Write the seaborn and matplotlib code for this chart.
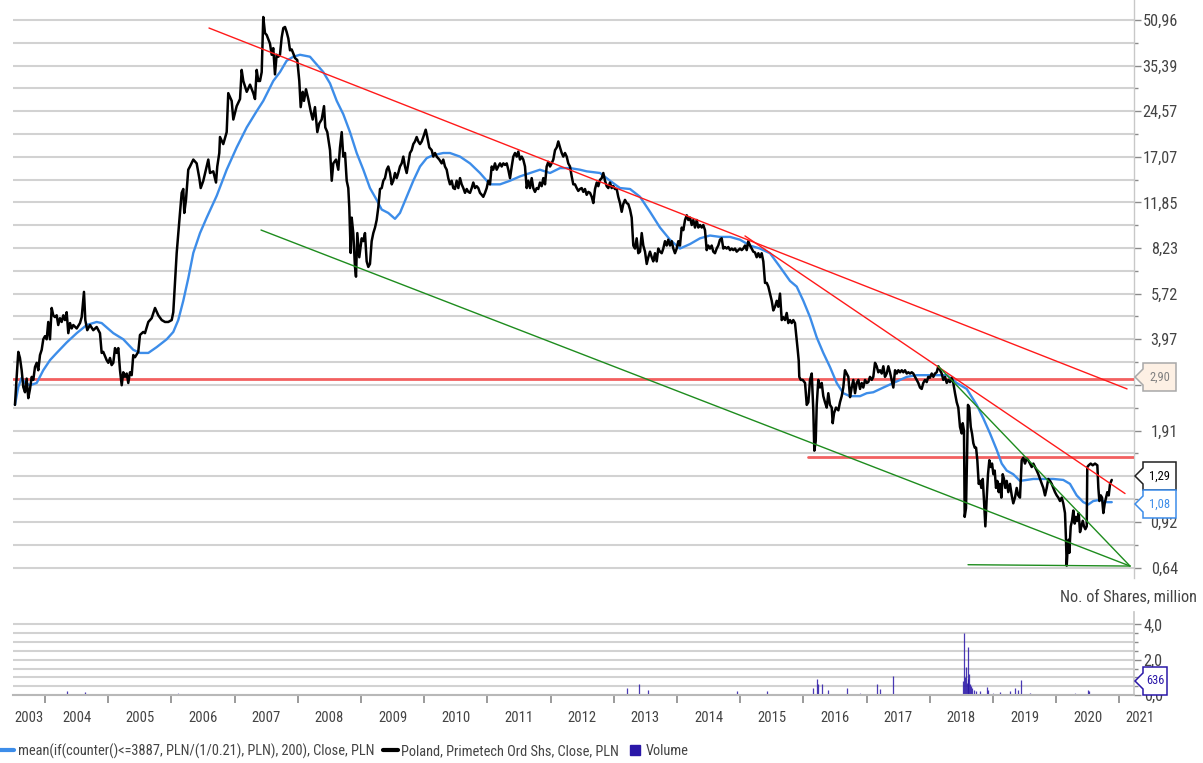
import numpy as np
import pandas as pd
import matplotlib
matplotlib.use("Agg")
import matplotlib.pyplot as plt
import matplotlib.transforms as mtransforms
from matplotlib import font_manager
from matplotlib.patches import Polygon
from matplotlib.lines import Line2D
from matplotlib.ticker import NullFormatter, FixedLocator, FixedFormatter
import seaborn as sns

# ---------------- data ----------------
close_year = [
    2003.525, 2003.552, 2003.578, 2003.604, 2003.631, 2003.657, 2003.684, 2003.710, 2003.736, 2003.763,
    2003.790, 2003.815, 2003.842, 2003.869, 2003.894, 2003.921, 2003.948, 2003.973, 2004.000, 2004.027,
    2004.052, 2004.079, 2004.106, 2004.131, 2004.158, 2004.185, 2004.210, 2004.237, 2004.264, 2004.290,
    2004.316, 2004.343, 2004.369, 2004.396, 2004.423, 2004.448, 2004.502, 2004.554, 2004.581, 2004.617,
    2004.638, 2004.669, 2004.712, 2004.764, 2004.818, 2004.870, 2004.897, 2004.922, 2004.976, 2005.002,
    2005.029, 2005.055, 2005.081, 2005.108, 2005.135, 2005.160, 2005.187, 2005.214, 2005.239, 2005.266,
    2005.293, 2005.318, 2005.345, 2005.372, 2005.397, 2005.424, 2005.476, 2005.503, 2005.555, 2005.582,
    2005.635, 2005.688, 2005.741, 2005.793, 2005.847, 2005.899, 2005.951, 2006.005, 2006.030, 2006.057,
    2006.084, 2006.109, 2006.136, 2006.163, 2006.188, 2006.204, 2006.231, 2006.267, 2006.294, 2006.347,
    2006.400, 2006.442, 2006.464, 2006.505, 2006.559, 2006.584, 2006.611, 2006.663, 2006.706, 2006.726,
    2006.758, 2006.769, 2006.821, 2006.875, 2006.900, 2006.954, 2006.980, 2007.033, 2007.086, 2007.112,
    2007.138, 2007.192, 2007.244, 2007.296, 2007.323, 2007.350, 2007.375, 2007.402, 2007.429, 2007.454,
    2007.481, 2007.508, 2007.560, 2007.587, 2007.612, 2007.639, 2007.666, 2007.692, 2007.718, 2007.745,
    2007.771, 2007.798, 2007.824, 2007.850, 2007.877, 2007.903, 2007.929, 2007.956, 2007.992, 2008.024,
    2008.046, 2008.078, 2008.098, 2008.130, 2008.166, 2008.204, 2008.236, 2008.272, 2008.309, 2008.340,
    2008.378, 2008.415, 2008.435, 2008.467, 2008.510, 2008.537, 2008.562, 2008.605, 2008.641, 2008.668,
    2008.695, 2008.720, 2008.747, 2008.774, 2008.799, 2008.815, 2008.837, 2008.853, 2008.878, 2008.905,
    2008.921, 2008.942, 2008.973, 2009.011, 2009.037, 2009.063, 2009.090, 2009.116, 2009.142, 2009.169,
    2009.195, 2009.222, 2009.248, 2009.274, 2009.301, 2009.328, 2009.353, 2009.380, 2009.407, 2009.432,
    2009.459, 2009.486, 2009.511, 2009.538, 2009.565, 2009.590, 2009.617, 2009.644, 2009.670, 2009.696,
    2009.723, 2009.749, 2009.775, 2009.802, 2009.828, 2009.854, 2009.881, 2009.907, 2009.934, 2009.961,
    2009.986, 2010.024, 2010.049, 2010.081, 2010.119, 2010.144, 2010.171, 2010.198, 2010.239, 2010.277,
    2010.302, 2010.329, 2010.356, 2010.381, 2010.408, 2010.435, 2010.460, 2010.487, 2010.514, 2010.540,
    2010.567, 2010.593, 2010.619, 2010.646, 2010.673, 2010.698, 2010.725, 2010.752, 2010.777, 2010.804,
    2010.831, 2010.856, 2010.883, 2010.910, 2010.935, 2010.962, 2010.989, 2011.014, 2011.041, 2011.068,
    2011.093, 2011.120, 2011.147, 2011.172, 2011.200, 2011.226, 2011.252, 2011.279, 2011.306, 2011.331,
    2011.358, 2011.385, 2011.410, 2011.437, 2011.464, 2011.489, 2011.516, 2011.543, 2011.568, 2011.595,
    2011.622, 2011.647, 2011.674, 2011.701, 2011.726, 2011.753, 2011.780, 2011.805, 2011.832, 2011.859,
    2011.885, 2011.912, 2011.938, 2011.964, 2011.991, 2012.017, 2012.043, 2012.070, 2012.097, 2012.122,
    2012.149, 2012.176, 2012.201, 2012.228, 2012.255, 2012.280, 2012.307, 2012.334, 2012.359, 2012.386,
    2012.413, 2012.438, 2012.465, 2012.492, 2012.518, 2012.544, 2012.571, 2012.597, 2012.624, 2012.651,
    2012.676, 2012.703, 2012.730, 2012.755, 2012.782, 2012.809, 2012.834, 2012.861, 2012.888, 2012.913,
    2012.940, 2012.967, 2012.992, 2013.019, 2013.046, 2013.071, 2013.098, 2013.125, 2013.150, 2013.177,
    2013.204, 2013.230, 2013.257, 2013.283, 2013.309, 2013.336, 2013.362, 2013.388, 2013.415, 2013.442,
    2013.467, 2013.494, 2013.521, 2013.546, 2013.573, 2013.600, 2013.625, 2013.652, 2013.679, 2013.704,
    2013.731, 2013.758, 2013.783, 2013.810, 2013.837, 2013.862, 2013.889, 2013.916, 2013.942, 2013.968,
    2013.995, 2014.021, 2014.047, 2014.074, 2014.100, 2014.127, 2014.154, 2014.179, 2014.206, 2014.233,
    2014.258, 2014.285, 2014.312, 2014.337, 2014.364, 2014.391, 2014.416, 2014.443, 2014.470, 2014.495,
    2014.522, 2014.549, 2014.574, 2014.601, 2014.628, 2014.653, 2014.680, 2014.707, 2014.733, 2014.759,
    2014.786, 2014.812, 2014.839, 2014.866, 2014.891, 2014.918, 2014.945, 2014.970, 2014.997, 2015.024,
    2015.049, 2015.076, 2015.103, 2015.128, 2015.155, 2015.182, 2015.207, 2015.234, 2015.261, 2015.287,
    2015.313, 2015.340, 2015.366, 2015.393, 2015.420, 2015.445, 2015.472, 2015.499, 2015.524, 2015.551,
    2015.578, 2015.603, 2015.630, 2015.657, 2015.682, 2015.709, 2015.736, 2015.761, 2015.788, 2015.815,
    2015.840, 2015.867, 2015.894, 2015.910, 2015.926, 2015.935, 2015.958, 2015.989, 2016.026, 2016.053,
    2016.078, 2016.105, 2016.132, 2016.157, 2016.173, 2016.195, 2016.211, 2016.236, 2016.263, 2016.290,
    2016.315, 2016.342, 2016.369, 2016.394, 2016.421, 2016.448, 2016.464, 2016.485, 2016.516, 2016.553,
    2016.579, 2016.606, 2016.631, 2016.658, 2016.685, 2016.711, 2016.738, 2016.764, 2016.790, 2016.817,
    2016.843, 2016.869, 2016.896, 2016.923, 2016.948, 2016.975, 2017.002, 2017.027, 2017.054, 2017.081,
    2017.106, 2017.133, 2017.160, 2017.185, 2017.212, 2017.239, 2017.265, 2017.291, 2017.318, 2017.344,
    2017.370, 2017.397, 2017.423, 2017.450, 2017.477, 2017.502, 2017.529, 2017.556, 2017.581, 2017.608,
    2017.635, 2017.660, 2017.687, 2017.714, 2017.739, 2017.766, 2017.793, 2017.818, 2017.845, 2017.872,
    2017.897, 2017.924, 2017.951, 2017.976, 2018.003, 2018.030, 2018.056, 2018.082, 2018.109, 2018.135,
    2018.162, 2018.188, 2018.214, 2018.241, 2018.268, 2018.293, 2018.320, 2018.347, 2018.372, 2018.399,
    2018.426, 2018.451, 2018.478, 2018.505, 2018.521, 2018.541, 2018.552, 2018.573, 2018.589, 2018.604,
    2018.625, 2018.648, 2018.668, 2018.689, 2018.711, 2018.732, 2018.752, 2018.774, 2018.795, 2018.816,
    2018.838, 2018.858, 2018.879, 2018.901, 2018.921, 2018.942, 2018.964, 2018.985, 2019.006, 2019.027,
    2019.048, 2019.068, 2019.091, 2019.111, 2019.132, 2019.154, 2019.174, 2019.195, 2019.217, 2019.242,
    2019.269, 2019.296, 2019.321, 2019.348, 2019.375, 2019.400, 2019.427, 2019.454, 2019.479, 2019.506,
    2019.533, 2019.558, 2019.586, 2019.613, 2019.638, 2019.665, 2019.692, 2019.717, 2019.744, 2019.771,
    2019.796, 2019.823, 2019.850, 2019.875, 2019.902, 2019.929, 2019.954, 2019.981, 2020.008, 2020.033,
    2020.060, 2020.087, 2020.112, 2020.139, 2020.155, 2020.166, 2020.182, 2020.198, 2020.207, 2020.230,
    2020.250, 2020.271, 2020.293, 2020.314, 2020.334, 2020.356, 2020.377, 2020.398, 2020.420, 2020.440,
    2020.461, 2020.483, 2020.492, 2020.514, 2020.546, 2020.578, 2020.614, 2020.651, 2020.667, 2020.683,
    2020.705, 2020.725, 2020.746, 2020.768, 2020.789, 2020.809, 2020.831, 2020.852, 2020.879,
]
close_pln = [
    2.35, 2.94, 3.59, 3.42, 3.10, 2.71, 2.60, 2.90, 2.48, 2.67,
    2.94, 2.87, 3.18, 3.29, 3.10, 3.50, 3.65, 3.97, 4.07, 3.97,
    4.56, 3.97, 5.10, 4.81, 4.74, 4.81, 4.45, 4.70, 4.56, 4.81,
    4.63, 4.93, 4.17, 4.52, 4.33, 4.45, 4.33, 4.52, 4.74, 5.80,
    4.63, 4.27, 4.45, 4.27, 4.38, 4.17, 3.56, 3.59, 3.36, 3.29,
    3.42, 3.23, 3.29, 3.70, 3.56, 3.70, 3.10, 2.75, 3.05, 2.94,
    3.02, 2.80, 3.05, 2.98, 3.50, 3.44, 3.59, 4.11, 4.21, 4.17,
    4.56, 4.70, 5.10, 4.81, 4.63, 4.56, 4.56, 4.63, 4.93, 6.28,
    7.92, 9.28, 10.9, 12.8, 13.2, 10.9, 12.1, 15.4, 15.8, 16.7,
    16.2, 14.4, 13.3, 14.1, 15.8, 16.7, 15.0, 15.2, 13.9, 15.8,
    17.6, 20.0, 18.9, 20.8, 28.4, 26.7, 23.0, 25.6, 27.1, 34.2,
    31.3, 28.7, 30.4, 28.4, 27.1, 34.2, 31.3, 31.3, 33.6, 52.2,
    45.9, 45.2, 42.2, 38.6, 40.7, 33.0, 38.6, 38.0, 38.6, 44.3,
    47.8, 48.2, 46.3, 44.0, 40.0, 40.3, 39.0, 37.6, 37.0, 31.3,
    25.4, 28.7, 26.7, 29.3, 27.1, 24.6, 23.0, 25.4, 20.8, 22.3,
    23.0, 25.6, 21.6, 20.8, 18.0, 14.1, 16.2, 16.7, 15.4, 18.4,
    20.8, 17.1, 17.6, 14.1, 13.3, 11.4, 7.92, 10.5, 9.28, 7.08,
    6.55, 9.28, 7.65, 8.9, 8.7, 9.28, 7.4, 7.08, 7.25, 8.7,
    9.28, 9.7, 10.3, 11.4, 13.2, 13.3, 14.1, 14.4, 15.4, 15.8,
    15.0, 13.7, 14.1, 15.0, 14.4, 15.0, 15.8, 16.2, 17.1, 15.8,
    15.0, 16.2, 17.6, 18.0, 18.9, 19.3, 20.0, 19.3, 18.9, 19.3,
    20.0, 21.2, 20.0, 18.4, 18.0, 17.1, 17.6, 17.1, 16.7, 16.2,
    16.7, 15.8, 15.4, 14.4, 13.7, 14.1, 13.3, 13.2, 14.1, 13.3,
    14.4, 13.7, 13.3, 12.8, 13.2, 12.9, 12.8, 13.3, 13.9, 13.3,
    13.5, 13.3, 12.8, 12.6, 12.4, 12.8, 13.3, 14.1, 13.7, 15.8,
    15.4, 16.2, 15.4, 15.8, 16.2, 15.8, 16.2, 16.0, 16.2, 15.4,
    14.4, 15.8, 17.1, 17.6, 17.1, 17.8, 16.7, 17.1, 16.7, 15.8,
    13.3, 14.1, 13.3, 14.4, 13.3, 12.9, 13.3, 13.2, 13.9, 13.5,
    14.4, 13.7, 15.8, 16.4, 15.8, 16.2, 16.7, 18.0, 18.4, 19.3,
    18.4, 17.6, 17.1, 17.6, 17.1, 16.2, 15.8, 14.6, 13.7, 13.7,
    13.3, 13.0, 13.2, 13.3, 12.9, 13.2, 12.6, 12.9, 12.8, 12.4,
    11.8, 13.2, 13.9, 13.5, 14.2, 14.4, 15.0, 14.1, 13.5, 13.3,
    13.9, 13.3, 13.5, 13.2, 13.2, 12.4, 11.8, 11.0, 11.7, 12.1,
    11.8, 11.7, 11.2, 10.5, 8.4, 8.2, 8.9, 7.9, 8.0, 9.28,
    8.4, 8.0, 7.25, 7.65, 8.0, 7.65, 7.4, 7.9, 7.4, 8.2,
    8.0, 7.9, 8.2, 8.7, 8.4, 8.8, 8.4, 8.7, 8.2, 7.9,
    8.2, 8.7, 8.4, 9.7, 9.5, 10.3, 10.7, 10.3, 10.5, 9.9,
    10.3, 9.7, 10.3, 9.7, 9.9, 9.7, 9.9, 9.5, 8.1, 8.4,
    8.2, 8.4, 8.0, 7.9, 8.2, 8.4, 8.8, 8.9, 8.2, 8.3,
    8.2, 8.3, 8.1, 8.2, 8.1, 8.2, 8.0, 8.1, 8.2, 8.1,
    8.2, 8.4, 8.1, 8.7, 8.4, 8.2, 8.0, 7.95, 7.65, 7.9,
    7.65, 7.9, 7.4, 6.23, 6.23, 6.05, 5.72, 5.4, 5.0, 5.15,
    5.4, 5.15, 5.72, 4.63, 4.74, 4.63, 4.9, 4.52, 4.63, 4.52,
    4.63, 4.52, 3.97, 3.65, 3.35, 2.94, 2.87, 2.87, 2.80, 2.35,
    2.40, 2.87, 3.02, 2.25, 1.63, 1.76, 2.35, 2.87, 2.70, 2.80,
    2.52, 2.40, 2.30, 2.58, 2.35, 2.30, 2.03, 2.20, 2.30, 2.25,
    2.40, 2.52, 2.70, 3.10, 3.02, 2.94, 2.50, 2.70, 2.87, 2.58,
    2.80, 2.87, 2.67, 2.80, 2.70, 2.87, 2.80, 2.82, 2.94, 2.87,
    2.94, 3.29, 3.20, 3.05, 3.10, 3.02, 3.20, 2.94, 3.02, 3.20,
    3.05, 2.87, 2.70, 3.10, 3.02, 3.10, 3.05, 3.10, 3.05, 3.10,
    3.02, 3.05, 3.02, 3.05, 3.02, 2.94, 2.87, 2.80, 2.70, 2.67,
    2.80, 2.87, 2.82, 2.94, 2.92, 3.02, 2.94, 3.02, 3.05, 3.20,
    3.10, 3.02, 2.87, 2.94, 2.80, 2.87, 2.82, 2.92, 2.80, 2.58,
    2.40, 2.30, 1.97, 1.87, 2.03, 1.91, 0.96, 1.03, 1.54, 2.35,
    2.30, 1.97, 1.87, 1.73, 1.67, 1.67, 1.51, 1.25, 1.28, 1.21,
    1.30, 1.09, 0.89, 1.12, 1.35, 1.51, 1.43, 1.47, 1.35, 1.39,
    1.21, 1.28, 1.17, 1.25, 1.12, 1.35, 1.30, 1.21, 1.28, 1.17,
    1.25, 1.14, 1.07, 1.12, 1.21, 1.14, 1.12, 1.51, 1.54, 1.47,
    1.53, 1.51, 1.47, 1.43, 1.47, 1.43, 1.39, 1.35, 1.30, 1.25,
    1.21, 1.14, 1.21, 1.30, 1.28, 1.25, 1.21, 1.17, 1.14, 1.12,
    1.09, 1.12, 1.07, 0.99, 0.80, 0.65, 0.75, 0.80, 0.72, 0.89,
    0.93, 1.01, 0.91, 0.96, 0.93, 0.99, 0.85, 0.89, 0.93, 0.89,
    0.87, 0.89, 1.43, 1.45, 1.47, 1.45, 1.47, 1.45, 1.21, 1.09,
    1.14, 1.12, 0.99, 1.07, 1.12, 1.17, 1.14, 1.25, 1.29,
]

ma_year = [
    2003.525, 2003.578, 2003.631, 2003.684, 2003.763, 2003.869, 2003.973, 2004.079, 2004.185, 2004.343,
    2004.502, 2004.660, 2004.818, 2004.897, 2005.081, 2005.239, 2005.397, 2005.503, 2005.635, 2005.768,
    2005.926, 2006.030, 2006.109, 2006.188, 2006.267, 2006.347, 2006.453, 2006.559, 2006.717, 2006.875,
    2007.033, 2007.192, 2007.350, 2007.454, 2007.508, 2007.612, 2007.718, 2007.824, 2007.929, 2008.035,
    2008.193, 2008.299, 2008.404, 2008.510, 2008.616, 2008.720, 2008.826, 2008.932, 2009.037, 2009.142,
    2009.248, 2009.328, 2009.432, 2009.538, 2009.617, 2009.723, 2009.828, 2009.934, 2010.040, 2010.144,
    2010.302, 2010.408, 2010.567, 2010.725, 2010.883, 2011.041, 2011.200, 2011.358, 2011.516, 2011.674,
    2011.832, 2011.991, 2012.149, 2012.307, 2012.465, 2012.571, 2012.782, 2012.940, 2013.098, 2013.257,
    2013.415, 2013.573, 2013.731, 2013.889, 2014.047, 2014.206, 2014.364, 2014.522, 2014.680, 2014.839,
    2014.997, 2015.155, 2015.313, 2015.472, 2015.630, 2015.788, 2015.894, 2015.999, 2016.105, 2016.211,
    2016.315, 2016.421, 2016.527, 2016.631, 2016.738, 2016.896, 2017.002, 2017.106, 2017.265, 2017.423,
    2017.635, 2017.793, 2017.951, 2018.109, 2018.268, 2018.426, 2018.584, 2018.742, 2018.847, 2018.953,
    2019.059, 2019.138, 2019.217, 2019.321, 2019.427, 2019.533, 2019.638, 2019.796, 2019.954, 2020.112,
    2020.218, 2020.324, 2020.429, 2020.508, 2020.587, 2020.693, 2020.799, 2020.879,
]
ma_pln = [
    2.35, 2.71, 2.92, 2.80, 2.75, 2.80, 3.10, 3.36, 3.56, 3.87,
    4.17, 4.45, 4.56, 4.52, 4.17, 3.97, 3.65, 3.56, 3.56, 3.73,
    3.97, 4.21, 4.63, 5.40, 6.46, 7.92, 9.28, 10.5, 12.5, 15.4,
    18.4, 21.6, 24.6, 26.7, 28.2, 31.3, 33.6, 36.8, 38.0, 38.6,
    38.0, 35.7, 33.6, 30.7, 26.7, 24.0, 20.8, 17.6, 15.4, 13.3,
    12.1, 11.2, 10.9, 10.4, 10.9, 12.4, 14.1, 15.8, 16.9, 17.3,
    17.6, 17.6, 17.1, 16.2, 15.0, 13.7, 13.7, 14.1, 14.6, 15.0,
    15.4, 15.0, 15.6, 15.6, 15.4, 15.2, 15.0, 14.1, 13.3, 13.2,
    12.4, 11.0, 9.7, 8.8, 8.2, 8.5, 8.9, 9.1, 9.0, 9.0,
    8.8, 8.4, 8.2, 7.9, 7.08, 6.33, 6.05, 5.40, 4.74, 4.03,
    3.56, 3.18, 2.80, 2.58, 2.52, 2.52, 2.58, 2.60, 2.70, 2.80,
    2.94, 2.98, 2.98, 2.98, 2.98, 2.80, 2.67, 2.35, 2.11, 1.87,
    1.64, 1.47, 1.39, 1.35, 1.28, 1.29, 1.30, 1.30, 1.30, 1.29,
    1.25, 1.14, 1.08, 1.06, 1.09, 1.10, 1.08, 1.08,
]

vol_year = [
    2004.348, 2004.633, 2013.204, 2013.399, 2013.541, 2014.945, 2015.419, 2016.147, 2016.210, 2016.231,
    2016.294, 2016.389, 2016.685, 2017.160, 2017.212, 2017.418, 2018.526, 2018.541, 2018.557, 2018.573,
    2018.589, 2018.600, 2018.612, 2018.621, 2018.636, 2018.652, 2018.668, 2018.700, 2018.732, 2018.795,
    2018.906, 2018.921, 2019.111, 2019.269, 2019.348, 2019.395, 2019.443, 2019.586, 2020.503, 2020.518,
]
vol_mln = [
    0.20, 0.15, 0.40, 0.60, 0.30, 0.25, 0.20, 0.40, 0.90, 0.60,
    0.65, 0.30, 0.40, 0.65, 0.35, 1.10, 0.80, 3.50, 1.00, 1.60,
    0.70, 2.70, 0.90, 1.20, 0.60, 0.50, 0.40, 0.30, 0.25, 0.20,
    0.45, 0.30, 0.15, 0.20, 0.40, 0.30, 0.85, 0.10, 0.30, 0.20,
]
base_vol_year = [
    2003.55, 2003.70, 2003.85, 2004.05, 2004.20, 2004.50, 2004.80, 2005.00, 2005.30, 2005.60,
    2005.90, 2006.10, 2006.40, 2006.70, 2007.00, 2007.30, 2007.60, 2007.90, 2008.20, 2008.50,
    2008.80, 2009.10, 2009.40, 2009.70, 2010.00, 2010.30, 2010.60, 2010.90, 2011.20, 2011.50,
    2011.80, 2012.10, 2012.40, 2012.70, 2013.00, 2013.30, 2013.70, 2014.00, 2014.30, 2014.60,
    2015.10, 2015.60, 2015.90, 2016.50, 2016.90, 2017.30, 2017.70, 2018.10, 2018.40, 2019.00,
    2019.70, 2020.00, 2020.30, 2020.70, 2020.85,
]
base_vol_mln = [
    0.06, 0.05, 0.08, 0.05, 0.07, 0.06, 0.05, 0.04, 0.06, 0.05,
    0.07, 0.09, 0.06, 0.05, 0.06, 0.05, 0.04, 0.05, 0.06, 0.04,
    0.05, 0.06, 0.05, 0.04, 0.05, 0.04, 0.05, 0.04, 0.05, 0.04,
    0.05, 0.04, 0.05, 0.04, 0.06, 0.08, 0.06, 0.05, 0.07, 0.05,
    0.06, 0.05, 0.07, 0.08, 0.09, 0.07, 0.06, 0.08, 0.07, 0.09,
    0.08, 0.06, 0.10, 0.07, 0.08,
]

# price axis: every tick gets a gridline; two labels are hidden behind value tags in the reference
price_ticks = [0.64, 0.92, 1.33, 1.91, 2.76, 3.97, 5.72, 8.23, 11.85, 17.07, 24.57, 35.39, 50.96]
price_tick_labels = ["0,64", "0,92", "", "1,91", "", "3,97", "5,72", "8,23",
                     "11,85", "17,07", "24,57", "35,39", "50,96"]
vol_ticks = [0.0, 2.0, 4.0]
vol_tick_labels = ["0,0", "2,0", "4,0"]
years = list(range(2003, 2022))

# trend lines (start year, start price, end year, end price)
red_trends = [(2006.595, 47.8, 2021.121, 2.67), (2015.076, 9.07, 2021.089, 1.157)]
green_trends = [(2007.418, 9.51, 2021.168, 0.648), (2018.130, 3.21, 2021.168, 0.648),
                (2018.605, 0.655, 2021.168, 0.648)]
red_levels = [(2003.494, 2.90), (2016.073, 1.55)]

last_close = "1,29"
last_ma = "1,08"
level_label = "2,90"
last_volume = "636"

legend_labels = ["mean(if(counter()<=3887, PLN/(1/0.21), PLN), 200), Close, PLN",
                 "Poland, Primetech Ord Shs, Close, PLN", "Volume"]

# ---------------- style ----------------
sns.set_theme(style="white")
installed = {f.name for f in font_manager.fontManager.ttflist}
font_choice, FS = "Liberation Sans", 9.2
for name, size in [("Liberation Sans Narrow", 10.8), ("Roboto Condensed", 10.2),
                   ("Open Sans Condensed", 10.2), ("Noto Sans Condensed", 10.0),
                   ("DejaVu Sans Condensed", 9.4)]:
    if name in installed:
        font_choice, FS = name, size
        break
plt.rcParams["font.family"] = [font_choice, "DejaVu Sans"]
FS_AX = FS * 1.15   # right-hand axis labels are slightly larger

W, H = 1203, 763
BLUE = "#3d8de9"
VOLC = "#2a17a8"
GRID = "#d2d2d2"
TXT = "#444444"


def fx(x):
    return x / W


def fy(y):
    return 1 - y / H


fig = plt.figure(figsize=(W / 100, H / 100), dpi=100)
fig.patch.set_facecolor("white")

ax = fig.add_axes([fx(13), fy(578), fx(1134) - fx(13), 578 / H])
axv = fig.add_axes([fx(13), fy(695), fx(1134) - fx(13), (695 - 612) / H])

XMIN, XMAX = 2003.494, 2021.231

# ---- price panel ----
ax.set_yscale("log")
sns.lineplot(x=ma_year, y=ma_pln, ax=ax, color=BLUE, lw=1.7, estimator=None, sort=False, zorder=4)
sns.lineplot(x=close_year, y=close_pln, ax=ax, color="black", lw=1.8, estimator=None, sort=False, zorder=5)

for (x0, y0, x1, y1) in red_trends:
    ax.plot([x0, x1], [y0, y1], color="#ff1a1a", lw=1.0, zorder=6)
for (x0, y0, x1, y1) in green_trends:
    ax.plot([x0, x1], [y0, y1], color="#1e8c1e", lw=1.0, zorder=6)
for (x0, v) in red_levels:
    ax.plot([x0, XMAX], [v, v], color="#f26060", lw=2.0, zorder=3)

ax.set_xlim(XMIN, XMAX)
ax.set_ylim(0.589, 59.8)
minor_vals = [np.sqrt(a * b) for a, b in zip(price_ticks[:-1], price_ticks[1:])]
minor_vals.append(price_ticks[-1] * np.sqrt(price_ticks[-1] / price_ticks[-2]))
ax.yaxis.set_major_locator(FixedLocator(price_ticks))
ax.yaxis.set_major_formatter(FixedFormatter(price_tick_labels))
ax.yaxis.set_minor_locator(FixedLocator(minor_vals))
ax.yaxis.set_minor_formatter(NullFormatter())
ax.yaxis.tick_right()
ax.set_xticks([])
ax.grid(True, which="both", axis="y", color=GRID, lw=1.5)
ax.grid(False, axis="x")
ax.set_axisbelow(True)
for s in ["left", "top", "bottom"]:
    ax.spines[s].set_visible(False)
ax.spines["right"].set_color("#c8c8c8")
ax.spines["right"].set_linewidth(1.0)
ax.tick_params(axis="y", which="major", length=5, width=1, color="#8a8a8a",
               labelsize=FS_AX, labelcolor=TXT, pad=26.5, right=True, left=False)
ax.tick_params(axis="y", which="minor", length=3, width=1, color="#8a8a8a", right=True, left=False)
for lbl in ax.get_yticklabels():
    lbl.set_ha("right")
ax.set_xlabel("")
ax.set_ylabel("")

# ---- volume panel ----
axv.vlines(base_vol_year, 0, base_vol_mln, color=VOLC, lw=0.8, alpha=0.55)
axv.vlines(vol_year, 0, vol_mln, color=VOLC, lw=0.9, alpha=0.85)
axv.set_xlim(XMIN, XMAX)
axv.set_ylim(0, 4.7)
axv.yaxis.set_major_locator(FixedLocator(vol_ticks))
axv.yaxis.set_major_formatter(FixedFormatter(vol_tick_labels))
axv.yaxis.set_minor_locator(FixedLocator([0.5, 1.0, 1.5, 2.5, 3.0, 3.5]))
axv.yaxis.tick_right()
axv.grid(True, which="both", axis="y", color=GRID, lw=1.5)
axv.set_axisbelow(True)
axv.xaxis.set_major_locator(FixedLocator(years[1:]))
axv.xaxis.set_major_formatter(NullFormatter())
axv.tick_params(axis="x", which="major", length=6, width=1.2, color="#8a8a8a", bottom=True)
axv.tick_params(axis="y", which="major", length=5, width=1, color="#8a8a8a",
                labelsize=FS_AX, labelcolor=TXT, pad=2, right=True, left=False)
axv.tick_params(axis="y", which="minor", length=3, width=1, color="#8a8a8a", right=True, left=False)
for s in ["left", "top"]:
    axv.spines[s].set_visible(False)
axv.spines["right"].set_color("#c8c8c8")
axv.spines["bottom"].set_color("#b8b8b8")
axv.spines["bottom"].set_linewidth(1.5)

# year labels centred on each year
trans = mtransforms.blended_transform_factory(axv.transData, axv.transAxes)
for yr in years:
    if yr == 2003:
        xpos = (XMIN + 2004) / 2
    elif yr == 2021:
        xpos = 2021.33
    else:
        xpos = yr + 0.5
    axv.text(xpos, -0.28, str(yr), transform=trans, ha="center", va="center",
             fontsize=FS * 1.03, color=TXT, clip_on=False)

fig.text(fx(1197), fy(597), "No. of Shares, million", ha="right", va="center",
         fontsize=FS_AX, color=TXT)


# ---- value tags ----
def tag(cy, text, face, edge, tcolor, x2=1176, half=14):
    tip, xb = 1135, 1143
    pts = [(tip, cy), (xb, cy - 8), (xb, cy - half), (x2, cy - half),
           (x2, cy + half), (xb, cy + half), (xb, cy + 8)]
    poly = Polygon([(fx(a), fy(b)) for a, b in pts], closed=True, transform=fig.transFigure,
                   facecolor=face, edgecolor=edge, lw=1.1, zorder=10)
    fig.add_artist(poly)
    fig.text(fx((xb + x2) / 2), fy(cy), text, ha="center", va="center", fontsize=FS * 0.88,
             color=tcolor, zorder=11)


tag(377, level_label, "#fdf0e4", "#a8a8a8", "#808080")
tag(476, last_close, "white", "#202020", "black")
tag(504, last_ma, "white", BLUE, BLUE)
tag(681, last_volume, "white", VOLC, VOLC, x2=1167)

# ---- legend ----
handles = [Line2D([0], [0], color=BLUE, lw=3),
           Line2D([0], [0], color="black", lw=3),
           Line2D([0], [0], marker="s", color=VOLC, linestyle="None", markersize=7)]
fig.legend(handles, legend_labels, loc="center left", bbox_to_anchor=(fx(0), fy(751)),
           ncol=3, frameon=False, handlelength=1.0, handletextpad=0.25, columnspacing=0.6,
           borderaxespad=0, borderpad=0, fontsize=FS * 1.02, labelcolor=TXT)

assert len(close_year) == len(close_pln)
assert len(ma_year) == len(ma_pln)
assert len(vol_year) == len(vol_mln)
assert len(base_vol_year) == len(base_vol_mln)

fig.savefig("out.png", dpi=100, facecolor="white")
